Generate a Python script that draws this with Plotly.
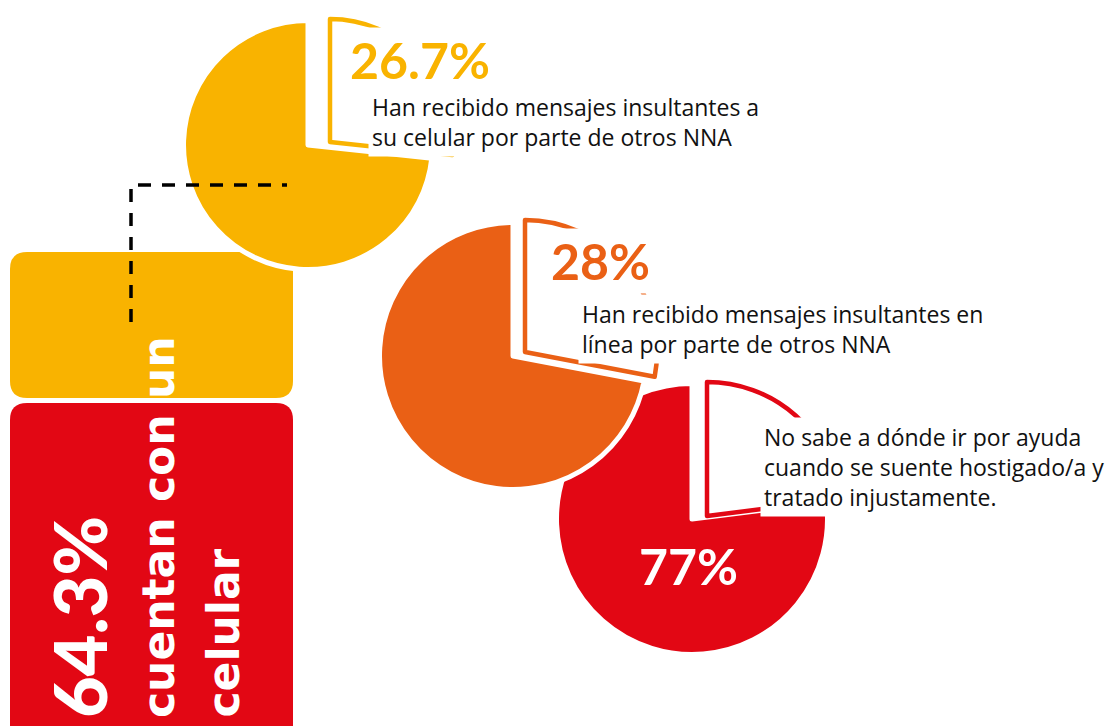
import plotly.graph_objects as go

W, H = 1115, 726
OFF = 8  # marge du <body> de la page

# Données
pct_labels = ["26.7%", "28%", "77%"]
outlined_part = [26.7, 28.0, 23.0]   # part détachée (contour)
filled_part = [73.3, 72.0, 77.0]     # part pleine
descriptions = [
    "Han recibido mensajes insultantes a<br>su celular por parte de otros NNA",
    "Han recibido mensajes insultantes en<br>línea por parte de otros NNA",
    "No sabe a dónde ir por ayuda<br>cuando se suente hostigado/a y<br>tratado injustamente.",
]
main_pct = "64.3%"
main_lines = ["cuentan con un", "celular"]

COLORS = {
    'yellow': '#F9B300',
    'orange': '#EA6015',
    'red': '#E20714',
}
pie_colors = [COLORS['yellow'], COLORS['orange'], COLORS['red']]
CLEAR = 'rgba(0,0,0,0)'

FONT = "Lato"


def X(px):
    return (px - OFF) / W


def Y(py):
    return 1 - (py - OFF) / H


def rounded_rect(x0, y0, x1, y1, r):
    """Rectangle arrondi en coordonnées papier (entrée en pixels de page)"""
    pts = [
        f"M {X(x0 + r)} {Y(y0)}",
        f"L {X(x1 - r)} {Y(y0)}",
        f"Q {X(x1)} {Y(y0)} {X(x1)} {Y(y0 + r)}",
        f"L {X(x1)} {Y(y1 - r)}",
        f"Q {X(x1)} {Y(y1)} {X(x1 - r)} {Y(y1)}",
        f"L {X(x0 + r)} {Y(y1)}",
        f"Q {X(x0)} {Y(y1)} {X(x0)} {Y(y1 - r)}",
        f"L {X(x0)} {Y(y0 + r)}",
        f"Q {X(x0)} {Y(y0)} {X(x0 + r)} {Y(y0)}",
        "Z",
    ]
    return " ".join(pts)


def dom(cx, cy, r):
    return dict(x=[X(cx - r), X(cx + r)], y=[Y(cy + r), Y(cy - r)])


# centre (px), rayon visible (px), décalage de la part détachée (px)
pie_geom = [
    ((308, 145), 122, (22, -3)),
    ((513, 356), 131, (12, -4)),
    ((692, 519), 133, (15, -3)),
]

fig = go.Figure()

# ordre de dessin : rouge, orange, jaune
for i in [2, 1, 0]:
    (cx, cy), r, (dx, dy) = pie_geom[i]
    col = pie_colors[i]
    common = dict(
        values=[outlined_part[i], filled_part[i]],
        labels=["a", "b"],
        sort=False,
        direction='clockwise',
        rotation=0,
        textinfo='none',
        hoverinfo='skip',
        showlegend=False,
    )
    # part pleine
    fig.add_trace(go.Pie(
        **common,
        marker=dict(colors=[CLEAR, col],
                    line=dict(color=[CLEAR, 'white'], width=[0, 5])),
        domain=dom(cx, cy, r + 2.5),
    ))
    # part détachée en contour
    fig.add_trace(go.Pie(
        **common,
        marker=dict(colors=['white', CLEAR],
                    line=dict(color=[col, CLEAR], width=[4.5, 0])),
        domain=dom(cx + dx, cy + dy, r + 1),
    ))

shapes = [
    dict(type='path', path=rounded_rect(10, 252, 293, 398, 17),
         fillcolor=COLORS['yellow'], line=dict(width=0), layer='below',
         xref='paper', yref='paper'),
    dict(type='path', path=rounded_rect(10, 403, 293, 745, 17),
         fillcolor=COLORS['red'], line=dict(width=0), layer='below',
         xref='paper', yref='paper'),
    dict(type='path',
         path=f"M {X(131)} {Y(322)} L {X(131)} {Y(185)} L {X(287)} {Y(185)}",
         line=dict(color='black', width=3.5, dash='13px,11px'),
         layer='above', xref='paper', yref='paper'),
]

annotations = []

# pourcentages
pct_pos = [(347, 60, 'left', COLORS['yellow']),
           (548, 261, 'left', COLORS['orange']),
           (688, 566, 'center', 'white')]
for (x, y, xa, c), txt in zip(pct_pos, pct_labels):
    annotations.append(dict(
        x=X(x), y=Y(y), xref='paper', yref='paper',
        text=txt, showarrow=False,
        xanchor=xa, yanchor='middle',
        font=dict(family=FONT, size=50, color=c, weight='bold'),
        bgcolor='white' if c != 'white' else CLEAR,
        borderpad=2,
    ))

# descriptions
desc_pos = [(368, 122), (578, 329), (760, 467)]
for (x, y), txt in zip(desc_pos, descriptions):
    annotations.append(dict(
        x=X(x), y=Y(y), xref='paper', yref='paper',
        text=txt, showarrow=False, align='left',
        xanchor='left', yanchor='middle',
        font=dict(family="Open Sans", size=23, color='#111111'),
        bgcolor='white', borderpad=3,
    ))

# texte vertical
annotations.append(dict(
    x=X(79), y=Y(720), xref='paper', yref='paper',
    text=main_pct, showarrow=False, textangle=-90,
    xanchor='center', yanchor='bottom',
    font=dict(family=FONT, size=72, color='white', weight=900),
))
for x, txt in zip([158, 223], main_lines):
    annotations.append(dict(
        x=X(x), y=Y(720), xref='paper', yref='paper',
        text=txt, showarrow=False, textangle=-90,
        xanchor='center', yanchor='bottom',
        font=dict(family="DejaVu Sans", size=44, color='white', weight='bold'),
    ))

fig.update_layout(
    width=W, height=H,
    margin=dict(l=0, r=0, t=0, b=0),
    paper_bgcolor='white',
    plot_bgcolor='white',
    shapes=shapes,
    annotations=annotations,
)

fig.write_html("out.html", config={'displayModeBar': False})
